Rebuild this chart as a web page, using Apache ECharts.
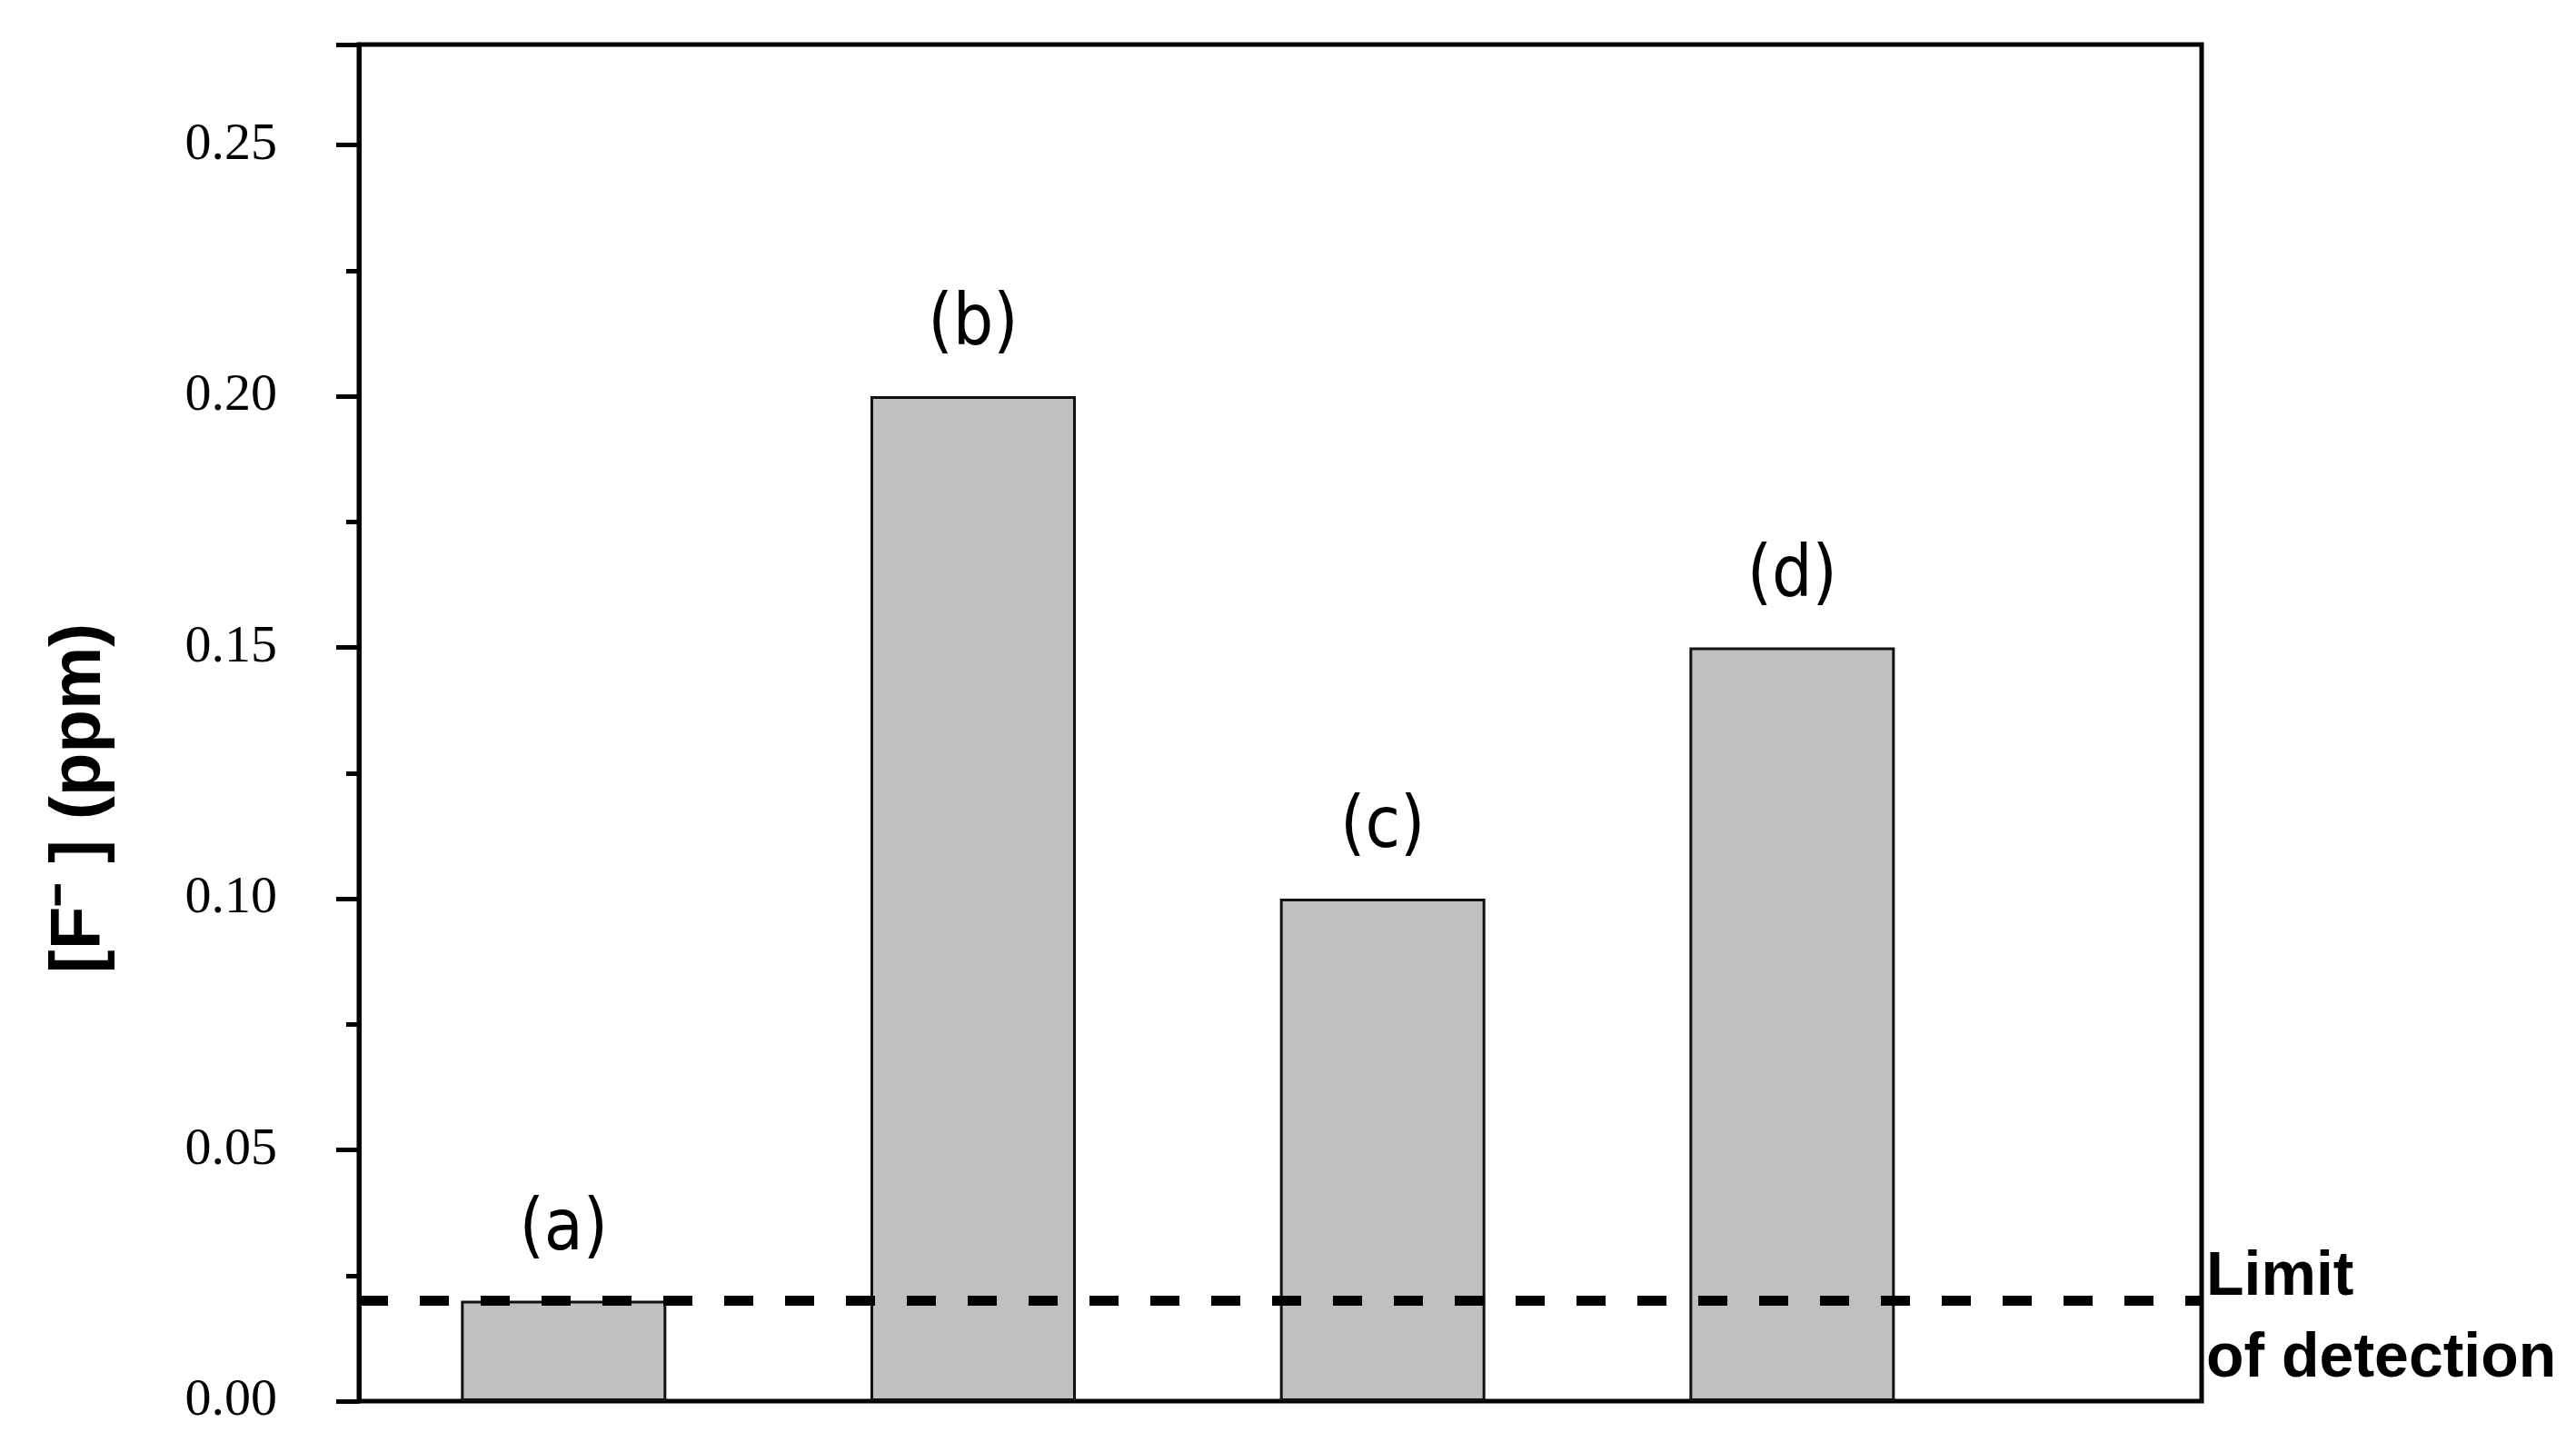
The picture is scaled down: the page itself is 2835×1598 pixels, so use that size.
<!DOCTYPE html>
<html>
<head>
<meta charset="utf-8">
<script src="https://cdn.jsdelivr.net/npm/echarts@6/dist/echarts.min.js"></script>
<style>
html,body{margin:0;padding:0;background:#fff;}
#chart{width:2835px;height:1598px;}
</style>
</head>
<body>
<div id="chart"></div>
<script>
const categories = ['(a)', '(b)', '(c)', '(d)'];
const fluoridePpm = [0.02, 0.20, 0.10, 0.15];
const limitOfDetection = 0.019;
const limitLabel = 'Limit\nof detection';
const yAxisTitle = '[F\u207B ] (ppm)';
const yMin = 0, yMax = 0.27, yStep = 0.05;

const chart = echarts.init(document.getElementById('chart'), null, {renderer: 'canvas'});
chart.setOption({
  animation: false,
  backgroundColor: '#fff',
  grid: {
    left: 395, top: 49, right: 412, bottom: 56,
    show: true, borderColor: '#000', borderWidth: 5, backgroundColor: 'transparent'
  },
  xAxis: {
    type: 'value', min: 0, max: categories.length + 0.5,
    axisLine: {show: false}, axisTick: {show: false}, axisLabel: {show: false}, splitLine: {show: false}
  },
  yAxis: {
    type: 'value', min: yMin, max: yMax, interval: yStep,
    name: yAxisTitle, nameLocation: 'middle', nameGap: 268, nameRotate: 90,
    nameTextStyle: {fontSize: 78, fontWeight: 'bold', fontFamily: 'Liberation Sans, Arial, sans-serif', color: '#000', padding: [0, 166, 0, 0]},
    axisLine: {show: true, lineStyle: {color: '#000', width: 5}},
    axisTick: {show: true, inside: false, length: 25, lineStyle: {color: '#000', width: 5}},
    minorTick: {show: true, splitNumber: 2, length: 14, lineStyle: {color: '#000', width: 5}},
    axisLabel: {margin: 90, fontSize: 58, fontFamily: 'Liberation Serif, Times New Roman, serif', color: '#000',
      showMaxLabel: false, formatter: v => v.toFixed(2)},
    splitLine: {show: false}, minorSplitLine: {show: false}
  },
  series: [{
    type: 'bar',
    barWidth: 226,
    data: categories.map((c, i) => ({name: c, value: [i + 0.5, fluoridePpm[i]]})),
    itemStyle: {color: '#c0c0c0', borderColor: '#111', borderWidth: 3},
    label: {show: true, position: 'top', distance: 38, formatter: '{b}', fontSize: 78,
      fontFamily: 'DejaVu Sans Condensed, Liberation Sans Narrow, Arial Narrow, Liberation Sans, sans-serif', color: '#000'},
    markLine: {
      silent: true, symbol: ['none', 'none'], z: 10,
      data: [{yAxis: limitOfDetection}],
      lineStyle: {type: [32, 35], width: 11, color: '#000'},
      label: {show: true, position: 'end', distance: 5, offset: [0, 20], formatter: limitLabel, fontSize: 68, fontWeight: 'bold',
        lineHeight: 90, color: '#000', fontFamily: 'Liberation Sans, Arial, sans-serif', align: 'left'}
    }
  }]
});
</script>
</body>
</html>
